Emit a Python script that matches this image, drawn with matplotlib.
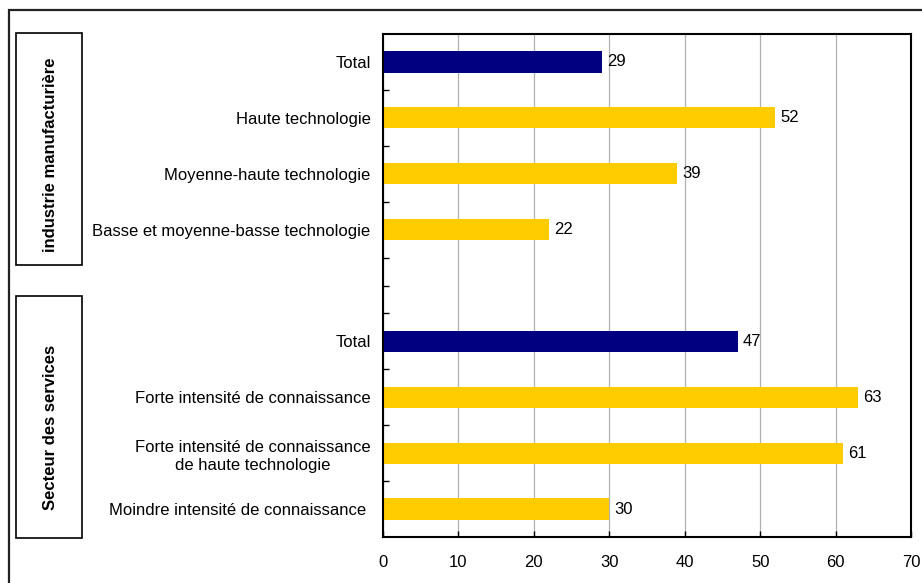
import matplotlib
matplotlib.use("Agg")
import matplotlib.pyplot as plt
from matplotlib.patches import Rectangle

plt.rcParams['font.family'] = ['Liberation Sans', 'DejaVu Sans']

categories = [
    "Total",
    "Haute technologie",
    "Moyenne-haute technologie",
    "Basse et moyenne-basse technologie",
    "",
    "Total",
    "Forte intensité de connaissance",
    "Forte intensité de connaissance\nde haute technologie",
    "Moindre intensité de connaissance ",
]
values = [29, 52, 39, 22, None, 47, 63, 61, 30]
is_total = [True, False, False, False, False, True, False, False, False]
group_labels = ["industrie manufacturière", "Secteur des services"]
xticks = [0, 10, 20, 30, 40, 50, 60, 70]

NAVY = "#000080"
GOLD = "#FFCC00"
FS = 12

W, H = 922, 583
fig = plt.figure(figsize=(W / 100, H / 100), dpi=100)

def fx(px):
    return px / W

def fy(py):
    return 1 - py / H

ax = fig.add_axes([fx(383), fy(537), fx(911) - fx(383), fy(34) - fy(537)])

pos = list(range(len(categories)))
for p, v, t in zip(pos, values, is_total):
    if v is None:
        continue
    ax.barh(p, v, height=0.38, color=NAVY if t else GOLD, zorder=2)
    ax.text(v + 0.7, p, f"{v}", va="center", ha="left", fontsize=FS, color="black", zorder=4)

ax.set_xlim(0, 70)
ax.set_ylim(8.5, -0.5)
ax.set_xticks(xticks)
ax.set_xticklabels([str(x) for x in xticks], fontsize=FS)
ax.set_yticks(pos)
ax.set_yticklabels(categories, fontsize=FS, linespacing=1.3)
for lab in ax.get_yticklabels():
    lab.set_multialignment("center")
ax.set_yticks([p + 0.5 for p in pos[:-1]], minor=True)
ax.tick_params(axis="y", which="both", direction="in", length=4, width=1, pad=9)
ax.tick_params(axis="x", which="both", direction="in", length=4, width=1, pad=13)
ax.xaxis.grid(True, color="#b0b0b0", linewidth=0.9, zorder=0)
ax.set_axisbelow(True)
for s in ax.spines.values():
    s.set_linewidth(1.5)
    s.set_color("black")

# outer frame
fig.add_artist(Rectangle((fx(9), fy(600)), fx(940) - fx(9), fy(10) - fy(600),
                         transform=fig.transFigure, fill=False, edgecolor="#222222",
                         linewidth=1.6, clip_on=False))

# group boxes
boxes = [(16, 33, 82, 265), (16, 296, 82, 538)]
text_y = [155, 427]
for (x0, y0, x1, y1), lbl, ty in zip(boxes, group_labels, text_y):
    fig.add_artist(Rectangle((fx(x0), fy(y1)), fx(x1) - fx(x0), fy(y0) - fy(y1),
                             transform=fig.transFigure, fill=False, edgecolor="black",
                             linewidth=1.2))
    fig.text(fx((x0 + x1) / 2) + 0.002, fy(ty), lbl, rotation=90, ha="center", va="center",
             fontsize=FS, fontweight="bold")

fig.savefig("out.png", dpi=100)
